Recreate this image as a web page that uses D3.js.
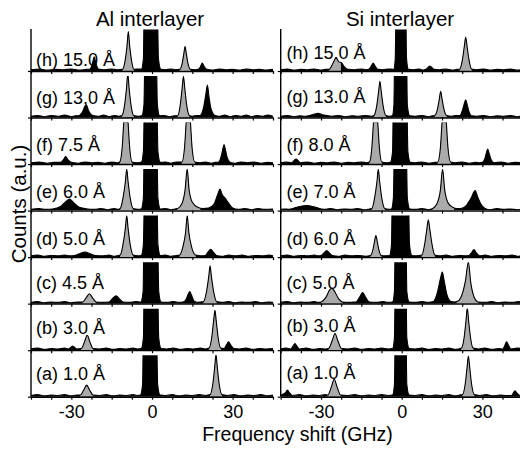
<!DOCTYPE html>
<html>
<head>
<meta charset="utf-8">
<script src="https://cdn.jsdelivr.net/npm/d3@7"></script>
<style>
  body { margin: 0; background: #fff; }
  svg { display: block; }
  text { font-family: "Liberation Sans", Arial, Helvetica, sans-serif; fill: #000; }
</style>
</head>
<body>
<div id="chart"></div>
<script>
// ---- data: [frequency shift (GHz), counts as fraction of panel height] ----
const alLabels = ["(h) 15.0 Å", "(g) 13.0 Å", "(f) 7.5 Å", "(e) 6.0 Å", "(d) 5.0 Å", "(c) 4.5 Å", "(b) 3.0 Å", "(a) 1.0 Å"];
const siLabels = ["(h) 15.0 Å", "(g) 13.0 Å", "(f) 8.0 Å", "(e) 7.0 Å", "(d) 6.0 Å", "(c) 5.0 Å", "(b) 3.0 Å", "(a) 1.0 Å"];
const xTickValues = [-45, -37.5, -30, -22.5, -15, -7.5, 0, 7.5, 15, 22.5, 30, 37.5, 45];
const xTickLabels = [-30, 0, 30];

const al_h = [[-45,.03],[-42,.05],[-39,.02],[-36,.04],[-33,.03],[-30,.05],[-27,.02],[-24.5,.04],
  [-23,.05],[-22.1,.2],[-21.5,.34],[-20.9,.2],[-20,.05],[-17.5,.03],[-15,.05],[-13,.03],
  [-11,.04],[-10,.25],[-9.3,.6],[-8.8,.95],[-8.3,.6],[-7.6,.25],[-6.7,.04],[-5,.05],
  [-4,.04],[-3.2,.3],[-2.9,1.5],[2,1.5],[2.4,.3],[3.3,.04],[5,.03],[7,.05],[8.8,.03],
  [10.3,.04],[11.2,.18],[11.8,.4],[12.3,.59],[12.8,.4],[13.4,.18],[14.3,.04],[16,.03],
  [17.4,.05],[18.2,.13],[18.7,.19],[19.3,.12],[20.3,.04],[22.5,.02],[25,.05],[27.5,.03],
  [30,.04],[32.5,.02],[35,.05],[37.5,.03],[40,.04],[42.5,.02],[45,.04]];
const al_g = [[-45,.03],[-42.5,.05],[-40,.02],[-37.5,.05],[-35,.03],[-32.5,.06],[-30,.02],[-28.5,.04],
  [-27.5,.04],[-26,.12],[-24.5,.31],[-23.5,.15],[-22,.05],[-20,.03],[-18,.06],[-16,.02],[-14,.05],[-12.3,.03],
  [-11.2,.05],[-10.2,.3],[-9.5,.7],[-9,1.05],[-8.5,.7],[-7.8,.3],[-6.8,.05],[-5,.03],
  [-3.8,.04],[-3,.3],[-2.6,1.5],[1.6,1.5],[2,.3],[2.9,.04],[4.5,.05],[6.5,.02],[8.2,.04],
  [9.6,.05],[10.5,.3],[11.2,.7],[11.7,.99],[12.2,.7],[12.9,.3],[13.9,.05],[15,.03],[16.6,.05],
  [17.8,.05],[19.2,.25],[20,.55],[20.6,.78],[21.2,.5],[22,.2],[23.4,.05],[25,.03],[27,.06],
  [29,.02],[31,.05],[33,.03],[35,.06],[37,.02],[39,.05],[41,.03],[43,.06],[45,.03]];
const al_f = [[-45,.03],[-42,.05],[-39,.02],[-36.5,.04],
  [-34,.04],[-33,.1],[-32.1,.18],[-31.2,.1],[-30,.04],[-27.5,.02],[-25,.05],[-22.5,.03],
  [-20,.04],[-17.5,.02],[-15,.05],[-13,.03],
  [-12,.05],[-11.1,.4],[-10.5,1],[-9.7,1.6],[-8.9,1],[-8.3,.4],[-7.4,.05],[-5.5,.03],
  [-4,.04],[-3.2,.3],[-2.8,1.5],[1.8,1.5],[2.2,.3],[3.1,.04],[5,.05],[7,.02],[9,.05],
  [11.1,.05],[12.1,.4],[12.7,1],[13.5,1.6],[14.3,1],[14.9,.4],[15.9,.05],[18,.03],[20,.05],
  [22,.02],[23.5,.04],[24.8,.05],[25.8,.2],[26.4,.38],[26.8,.47],[27.3,.35],[28,.15],[29.2,.04],
  [31,.02],[33,.05],[35.5,.03],[38,.05],[40.5,.02],[43,.04],[45,.03]];
const al_e = [[-45,.03],[-42,.05],[-39.5,.03],
  [-37,.04],[-34,.1],[-32,.22],[-30.7,.28],[-29.3,.2],[-27,.08],[-24,.04],
  [-21.5,.03],[-19,.05],[-16.5,.02],[-14,.05],[-12.5,.03],
  [-11.8,.05],[-10.8,.3],[-9.9,.7],[-9.4,1],[-8.9,.7],[-8.1,.3],[-7,.05],[-5.3,.03],
  [-4,.04],[-3.2,.3],[-2.9,1.5],[1.8,1.5],[2.2,.3],[3.1,.04],[5,.05],[7,.02],[8.5,.04],
  [9.5,.05],[11,.15],[12.3,.5],[13.1,1],[13.8,.5],[15,.2],[17,.08],[19,.05],
  [21,.06],[23,.15],[24.5,.4],[25.3,.52],[26,.4],[27.2,.3],[28.3,.2],[30,.06],[32,.03],
  [34.5,.05],[37,.02],[39.5,.05],[42,.03],[45,.04]];
const al_d = [[-45,.03],[-42.5,.05],[-40,.02],[-37.5,.04],[-35,.03],[-32.5,.05],[-30.5,.03],
  [-29,.04],[-27,.08],[-24.9,.12],[-23,.08],[-21,.04],[-18.5,.03],[-16,.05],[-14,.02],[-12.5,.04],
  [-11.8,.05],[-10.8,.3],[-9.9,.7],[-9.4,1],[-8.9,.7],[-8.1,.3],[-7,.05],[-5.3,.03],
  [-4,.04],[-3.2,.3],[-2.8,1.5],[1.8,1.5],[2.2,.3],[3.1,.04],[5,.05],[7,.02],[9,.04],
  [10.3,.05],[11.5,.25],[12.5,.6],[13.1,1],[13.7,.6],[14.7,.25],[16.2,.05],[18,.03],
  [19.8,.04],[20.8,.12],[21.8,.19],[22.8,.12],[24,.04],[26,.02],[28.5,.05],[31,.03],
  [33.5,.05],[36,.02],[38.5,.04],[41,.03],[43.5,.05],[45,.03]];
const al_c = [[-45,.03],[-42.5,.05],[-40,.02],[-37.5,.04],[-35,.03],[-32.5,.05],[-30,.02],[-27.5,.04],
  [-25.8,.04],[-24.5,.14],[-23.3,.24],[-22.1,.14],[-20.8,.04],[-18.5,.03],
  [-16,.04],[-14.6,.13],[-13.4,.19],[-12.2,.12],[-10.8,.04],[-8.5,.03],[-6,.05],
  [-4.2,.04],[-3.3,.3],[-3,1.5],[2.1,1.5],[2.5,.3],[3.4,.04],[5.5,.03],[8,.05],[10,.03],
  [11.5,.04],[12.8,.12],[13.6,.25],[14.1,.29],[14.7,.2],[15.7,.06],[17,.03],[18.2,.04],
  [19.2,.05],[20.3,.3],[21.1,.65],[21.6,.91],[22.1,.65],[22.9,.3],[24,.05],
  [26,.03],[28.5,.05],[31,.02],[33.5,.04],[36,.03],[38.5,.05],[41,.02],[43.5,.04],[45,.03]];
const al_b = [[-45,.03],[-42.5,.05],[-40,.02],[-37.5,.04],[-35,.03],[-32.5,.05],
  [-31,.03],[-29.5,.1],[-28,.03],
  [-26.3,.04],[-25.1,.2],[-24.1,.36],[-23.1,.2],[-21.9,.04],
  [-19.5,.03],[-17,.05],[-14.5,.02],[-12,.04],[-9.5,.03],[-7,.05],[-5.5,.03],
  [-4,.04],[-3.2,.3],[-2.9,1.5],[2.1,1.5],[2.5,.3],[3.4,.04],
  [5.5,.03],[8,.05],[10.5,.02],[13,.04],[15.5,.03],[18,.05],[20,.03],
  [21.2,.05],[22.2,.3],[22.9,.7],[23.4,.96],[23.9,.7],[24.6,.3],[25.6,.05],
  [26.8,.04],[27.7,.13],[28.5,.2],[29.3,.12],[30.5,.04],
  [32.5,.03],[35,.05],[37.5,.02],[40,.04],[42.5,.03],[45,.04]];
const al_a = [[-45,.03],[-42.5,.05],[-40,.02],[-37.5,.04],[-35,.03],[-32.5,.05],[-30,.02],[-28,.04],
  [-26.7,.04],[-25.4,.16],[-24.3,.28],[-23.2,.16],[-21.9,.04],
  [-19.5,.03],[-17,.05],[-14.5,.02],[-12,.04],[-9.5,.03],[-7,.05],[-5.5,.03],
  [-4.3,.04],[-3.5,.3],[-3.2,1.5],[1.7,1.5],[2.1,.3],[3,.04],
  [5,.03],[7.5,.05],[10,.02],[12.5,.04],[15,.03],[17.5,.05],[20,.03],
  [21.6,.05],[22.6,.3],[23.3,.7],[23.8,1.02],[24.3,.7],[25,.3],[26,.05],
  [28,.03],[30.5,.05],[33,.02],[35.5,.04],[38,.03],[40.5,.05],[43,.02],[45,.04]];

const si_h = [[-45,.03],[-42.5,.05],[-40,.02],[-37.5,.04],[-35,.03],[-32.5,.05],[-30,.02],[-28.3,.04],
  [-27,.04],[-25.6,.18],[-24.4,.32],[-23.4,.22],[-22.4,.2],[-21.3,.1],[-20,.04],
  [-17.5,.03],[-15,.05],[-13.3,.03],
  [-12.3,.04],[-11.3,.12],[-10.6,.19],[-9.9,.12],[-8.9,.04],[-7,.03],[-5,.05],
  [-3,.04],[-2.4,.3],[-2.1,1.5],[1.5,1.5],[1.8,.3],[2.5,.04],
  [4.5,.03],[6.5,.05],[8,.02],[9,.04],[10.5,.12],[12,.04],
  [14,.03],[16.5,.05],[19,.02],[20.5,.04],
  [21.6,.05],[22.6,.28],[23.3,.6],[23.8,.81],[24.3,.6],[25,.28],[26,.05],
  [28,.03],[30.5,.05],[33,.02],[35.5,.04],[38,.03],[40.5,.05],[43,.02],[45,.04]];
const si_g = [[-45,.03],[-42.5,.05],[-40,.02],[-38,.04],
  [-36,.03],[-33,.07],[-31.2,.1],[-29,.06],[-26,.03],
  [-23.5,.05],[-21,.02],[-18.5,.04],[-16,.03],[-13.5,.05],[-11.3,.03],
  [-10.3,.05],[-9.3,.28],[-8.6,.62],[-8.1,.87],[-7.6,.62],[-6.9,.28],[-5.9,.05],[-4.5,.03],
  [-3.5,.04],[-2.9,.3],[-2.6,1.5],[1.8,1.5],[2.1,.3],[3,.04],
  [5,.03],[7.5,.05],[10,.02],[11.3,.04],
  [12.3,.05],[13.3,.2],[14,.45],[14.5,.63],[15,.45],[15.7,.2],[16.7,.05],[18.5,.03],[20.3,.05],
  [21.6,.05],[22.6,.18],[23.3,.34],[23.8,.43],[24.3,.32],[25,.15],[26,.04],
  [28,.03],[30.5,.05],[33,.02],[35.5,.04],[38,.03],[40.5,.05],[43,.02],[45,.04]];
const si_f = [[-45,.03],[-43,.05],
  [-41,.03],[-39.3,.12],[-37.6,.03],
  [-35,.05],[-32.5,.02],[-30,.04],[-27.5,.03],[-25,.05],[-22.5,.02],[-20,.04],[-17.5,.03],[-15,.05],[-13,.03],
  [-12,.05],[-11.1,.4],[-10.5,1],[-9.7,1.6],[-8.9,1],[-8.3,.4],[-7.4,.05],[-5.5,.03],
  [-4.2,.04],[-3.4,.3],[-3.1,1.5],[1.9,1.5],[2.3,.3],[3.2,.04],
  [5,.03],[7.5,.05],[10,.02],[12.2,.04],
  [13.4,.05],[14.4,.4],[15,1],[15.8,1.6],[16.6,1],[17.2,.4],[18.2,.05],
  [20,.03],[22.5,.05],[25,.02],[27.5,.04],[29,.03],
  [30,.04],[31,.15],[31.6,.3],[32,.36],[32.5,.26],[33.3,.1],[34.5,.03],
  [37,.05],[39.5,.02],[42,.04],[45,.03]];
const si_e = [[-45,.03],[-43.5,.04],
  [-42,.03],[-39,.08],[-35.3,.12],[-32,.08],[-29,.03],
  [-26.5,.05],[-24,.02],[-21.5,.04],[-19,.03],[-16.5,.05],[-14,.02],[-12,.04],
  [-11.1,.05],[-10.1,.3],[-9.2,.7],[-8.7,1],[-8.2,.7],[-7.4,.3],[-6.3,.05],[-4.8,.03],
  [-3.8,.04],[-3.1,.3],[-2.7,1.5],[1.7,1.5],[2.1,.3],[3,.04],
  [5,.03],[7.5,.05],[10,.02],
  [11.5,.05],[13,.15],[14.4,.5],[15.2,1],[16,.5],[17.3,.18],[19,.08],[20.5,.05],
  [22,.05],[24,.12],[25.8,.3],[27.3,.48],[28.3,.32],[29.5,.15],[31,.05],
  [33,.02],[35.5,.05],[38,.03],[40.5,.04],[43,.02],[45,.04]];
const si_d = [[-45,.03],[-42.5,.05],[-40,.02],[-37.5,.04],[-35,.03],[-32.5,.05],[-31,.03],
  [-30,.04],[-28.9,.1],[-27.9,.16],[-26.9,.1],[-25.8,.04],
  [-23.5,.02],[-21,.05],[-18.5,.03],[-16,.04],[-13.5,.02],
  [-11.6,.04],[-10.7,.18],[-10.1,.38],[-9.6,.52],[-9.1,.38],[-8.5,.18],[-7.6,.04],[-6,.03],
  [-4.5,.04],[-3.8,.3],[-3.5,1.5],[2.5,1.5],[2.9,.3],[3.8,.04],[5.5,.03],
  [7.5,.05],[8.5,.3],[9.3,.65],[9.9,.9],[10.5,.65],[11.3,.3],[12.3,.05],
  [14,.03],[16.5,.05],[19,.02],[21.5,.04],[23.5,.03],
  [25,.04],[26,.11],[26.9,.18],[27.8,.1],[29,.03],
  [31,.05],[33.5,.02],[36,.04],[38.5,.03],[41,.05],[43.5,.02],[45,.04]];
const si_c = [[-45,.03],[-42.5,.05],[-40,.02],[-37.5,.04],[-35,.03],[-32.5,.05],[-31,.03],
  [-30,.04],[-28.2,.15],[-26.8,.33],[-26,.37],[-25,.3],[-23.5,.12],[-22,.04],
  [-19.5,.03],[-18,.04],
  [-17,.04],[-15.7,.15],[-14.5,.27],[-13.4,.15],[-12,.04],
  [-9.5,.03],[-7,.05],[-5,.03],
  [-3.4,.04],[-2.7,.3],[-2.4,1.5],[1.6,1.5],[1.9,.3],[2.8,.04],
  [5,.03],[7.5,.05],[10,.03],
  [11.8,.05],[13.2,.25],[14.4,.6],[15.1,.76],[15.8,.55],[16.8,.22],[18.3,.05],[19.5,.04],
  [20.5,.05],[22,.15],[23.7,.55],[24.8,1],[25.7,.5],[27,.15],[28.5,.04],
  [31,.03],[33.5,.05],[36,.02],[38.5,.04],[41,.03],[43.5,.05],[45,.03]];
const si_b = [[-45,.03],[-43,.05],
  [-41.3,.03],[-40.4,.1],[-39.7,.16],[-39,.1],[-38,.03],
  [-35.5,.05],[-33,.02],[-30.5,.04],[-28.3,.03],
  [-27.2,.04],[-25.9,.22],[-24.8,.4],[-23.7,.22],[-22.4,.04],
  [-20,.03],[-17.5,.05],[-15,.02],[-12.5,.04],[-10,.03],[-7.5,.05],[-5,.03],
  [-3.4,.04],[-2.7,.3],[-2.4,1.5],[1.6,1.5],[1.9,.3],[2.8,.04],
  [5,.03],[7.5,.05],[10,.02],[12.5,.04],[15,.03],[17.5,.05],[20,.02],
  [22.2,.05],[23.2,.3],[23.9,.7],[24.4,1.02],[24.9,.7],[25.6,.3],[26.6,.05],
  [28.5,.03],[31,.05],[33.5,.02],[36,.04],
  [37.6,.03],[38.4,.12],[39,.2],[39.7,.12],[40.6,.03],
  [43,.05],[45,.03]];
const si_a = [[-45,.04],[-43.2,.1],[-42.5,.16],[-41.8,.1],[-40.5,.03],
  [-38,.05],[-35.5,.02],[-33,.04],[-30.5,.03],[-28.5,.05],
  [-27.5,.04],[-26.2,.23],[-25.1,.42],[-24,.23],[-22.7,.04],
  [-20,.03],[-17.5,.05],[-15,.02],[-12.5,.04],[-10,.03],[-7.5,.05],[-5,.03],
  [-3.4,.04],[-2.7,.3],[-2.4,1.5],[1.6,1.5],[1.9,.3],[2.8,.04],
  [5,.03],[7.5,.05],[10,.02],[12.5,.04],[15,.03],[17.5,.05],[20,.02],[21.5,.04],
  [22.6,.05],[23.6,.3],[24.3,.7],[24.8,.98],[25.3,.7],[26,.3],[27,.05],
  [29,.03],[31.5,.05],[34,.02],[36.5,.04],[39,.03],
  [40.8,.03],[41.5,.09],[42.1,.14],[42.8,.09],[44,.03],[45,.04]];

// frequency ranges whose peaks are shaded grey (top panel first)
const alGray = [[[-11,-6.6],[10.2,14.4]], [[-11.3,-6.7],[9.5,14]], [[-12.1,-7.3],[11,16]],
  [[-11.9,-6.9],[9.4,18]], [[-11.9,-6.9],[10.2,16.3]], [[-25.9,-20.7],[19.1,24.1]],
  [[-26.4,-21.8],[21.1,25.7]], [[-26.8,-21.8],[21.5,26.1]]];
const siGray = [[[-27.1,-22.6],[21.5,26.1]], [[-10.4,-5.8],[12.2,16.8]], [[-12.1,-7.3],[13.3,18.3]],
  [[-11.2,-6.2],[11.4,19.5]], [[-11.7,-7.5],[7.4,12.4]], [[-30.1,-21.9],[20.4,28.6]],
  [[-27.3,-22.3],[22.1,26.7]], [[-27.6,-22.6],[22.5,27.1]]];

const alSpectra = [al_h, al_g, al_f, al_e, al_d, al_c, al_b, al_a];
const siSpectra = [si_h, si_g, si_f, si_e, si_d, si_c, si_b, si_a];

// ---- layout ----
const width = 520, height = 449;
const panelW = 242, peakH = 41.5;
const greyFill = "#aaaaaa";

const svg = d3.select("#chart").append("svg")
  .attr("width", width).attr("height", height);
const defs = svg.append("defs");

// baseline of each row, top panel (h) to bottom panel (a)
const rowY = d3.scaleLinear().domain([0, 7]).range([71, 396.7]);

const columns = [
  { title: "Al interlayer", titleX: 150, x0: 31, labelX: 36, labels: alLabels, spectra: alSpectra, gray: alGray,
    labelDy: [5.5, 13.5, 13.5, 13, 12.5, 15, 16.5, 17] },
  { title: "Si interlayer", titleX: 400, x0: 280.7, labelX: 286.5, labels: siLabels, spectra: siSpectra, gray: siGray,
    labelDy: [12.5, 14.5, 13.5, 13, 12.5, 15, 18, 18] }
];

const fmt = d => xTickLabels.includes(d) ? (d < 0 ? "-" + Math.abs(d) : String(d)) : "";

columns.forEach((col, ci) => {
  const x = d3.scaleLinear().domain([-45, 45]).range([col.x0, col.x0 + panelW]);

  svg.append("text")
    .attr("x", col.titleX).attr("y", 26)
    .attr("text-anchor", "middle")
    .style("font-size", "20.5px")
    .text(col.title);

  col.spectra.forEach((pts, i) => {
    const base = rowY(i);
    const y = d3.scaleLinear().domain([0, 1]).range([base, base - peakH]);

    const clipId = `clip-${ci}-${i}`;
    defs.append("clipPath").attr("id", clipId)
      .append("rect")
      .attr("x", col.x0).attr("y", base - peakH)
      .attr("width", panelW).attr("height", peakH + 0.5);

    const grayId = `gray-${ci}-${i}`;
    defs.append("clipPath").attr("id", grayId)
      .selectAll("rect")
      .data(col.gray[i])
      .enter()
      .append("rect")
      .attr("x", d => x(d[0]))
      .attr("width", d => x(d[1]) - x(d[0]))
      .attr("y", base - peakH - 2)
      .attr("height", peakH + 2);

    const area = d3.area()
      .x(d => x(d[0]))
      .y0(base)
      .y1(d => y(d[1]))
      .curve(d3.curveMonotoneX);
    const line = d3.line()
      .x(d => x(d[0]))
      .y(d => y(d[1]))
      .curve(d3.curveMonotoneX);

    const g = svg.append("g").attr("clip-path", `url(#${clipId})`);
    g.append("path").datum(pts).attr("d", area).attr("fill", "#000");
    g.append("g").attr("clip-path", `url(#${grayId})`)
      .append("path").datum(pts).attr("d", area).attr("fill", greyFill);
    g.append("path").datum(pts).attr("d", line)
      .attr("fill", "none").attr("stroke", "#000").attr("stroke-width", 1.1);

    const axis = svg.append("g")
      .attr("transform", `translate(0,${base})`)
      .call(d3.axisBottom(x)
        .tickValues(xTickValues)
        .tickSize(3)
        .tickSizeOuter(0)
        .tickPadding(6)
        .tickFormat(i === 7 ? fmt : () => ""));
    axis.select(".domain").attr("stroke-width", 1.4);
    axis.selectAll(".tick line").attr("stroke-width", 1.2);
    // drop the empty tick texts, keep only -30, 0, 30 on the bottom row
    axis.selectAll(".tick text").filter(function () { return this.textContent === ""; }).remove();
    axis.selectAll(".tick text")
      .style("font-size", "18px")
      .style("font-family", "'Liberation Sans', Arial, Helvetica, sans-serif")
      .attr("fill", "#000");

    svg.append("text")
      .attr("x", col.labelX).attr("y", base - col.labelDy[i])
      .style("font-size", "18px")
      .text(col.labels[i]);
  });

  // vertical axis of the column
  svg.append("line")
    .attr("x1", col.x0).attr("x2", col.x0)
    .attr("y1", 29).attr("y2", rowY(7))
    .attr("stroke", "#000").attr("stroke-width", 1.4);
  const yAxis = svg.append("g")
    .attr("transform", `translate(${col.x0},0)`)
    .call(d3.axisLeft(rowY).tickValues(d3.range(8)).tickSize(3).tickSizeOuter(0).tickFormat(() => ""));
  yAxis.select(".domain").remove();
  yAxis.selectAll(".tick text").remove();
  yAxis.selectAll(".tick line").attr("stroke-width", 1.2);
});

svg.append("text")
  .attr("transform", "translate(25.5,204) rotate(-90)")
  .attr("text-anchor", "middle")
  .style("font-size", "20.5px")
  .text("Counts (a.u.)");

svg.append("text")
  .attr("x", 297.5).attr("y", 441)
  .attr("text-anchor", "middle")
  .style("font-size", "19.5px")
  .text("Frequency shift (GHz)");
</script>
</body>
</html>
